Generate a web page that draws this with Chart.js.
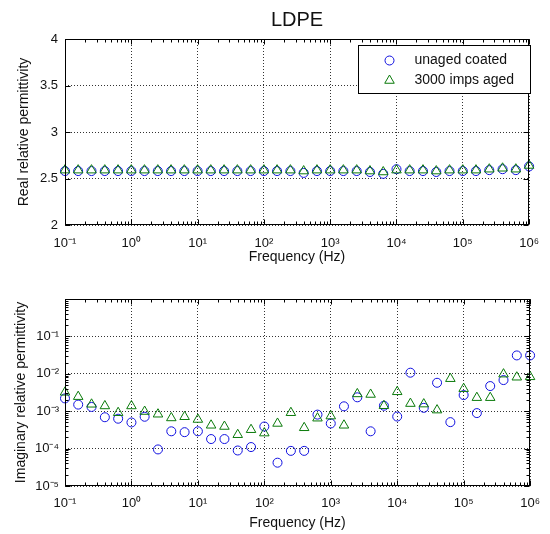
<!DOCTYPE html>
<html>
<head>
<meta charset="utf-8">
<script src="https://cdn.jsdelivr.net/npm/chart.js@4.4.0/dist/chart.umd.min.js"></script>
<style>
  body { margin: 0; background: #fff; }
  .wrap { position: absolute; left: 0; width: 550px; height: 267px; }
</style>
</head>
<body>
<div class="wrap" style="top:0"><canvas id="realChart" width="550" height="267"></canvas></div>
<div class="wrap" style="top:267px"><canvas id="imagChart" width="550" height="267"></canvas></div>
<script>
// frequency sweep, 5 points per decade
const freqs = [0.1, 0.158, 0.251, 0.398, 0.631, 1, 1.58, 2.51, 3.98, 6.31,
  10, 15.8, 25.1, 39.8, 63.1, 100, 158, 251, 398, 631,
  1000, 1580, 2510, 3980, 6310, 1e4, 1.58e4, 2.51e4, 3.98e4, 6.31e4,
  1e5, 1.58e5, 2.51e5, 3.98e5, 6.31e5, 1e6];

const realCoated = [2.58, 2.58, 2.58, 2.58, 2.58, 2.58, 2.58, 2.58, 2.58, 2.58,
  2.58, 2.58, 2.58, 2.58, 2.58, 2.58, 2.58, 2.58, 2.56, 2.58,
  2.58, 2.58, 2.58, 2.57, 2.55, 2.60, 2.58, 2.58, 2.57, 2.58,
  2.58, 2.58, 2.59, 2.60, 2.59, 2.63];
const realAged = [2.59, 2.59, 2.59, 2.59, 2.59, 2.59, 2.59, 2.59, 2.59, 2.59,
  2.59, 2.59, 2.59, 2.59, 2.59, 2.59, 2.59, 2.59, 2.58, 2.59,
  2.59, 2.59, 2.59, 2.58, 2.57, 2.59, 2.59, 2.59, 2.58, 2.59,
  2.59, 2.59, 2.60, 2.61, 2.60, 2.64];

const imagCoated = [2.2e-3, 1.5e-3, 1.3e-3, 6.9e-4, 6.3e-4, 5.0e-4, 7.1e-4, 9.5e-5, 2.9e-4, 2.75e-4,
  2.9e-4, 1.8e-4, 1.8e-4, 8.9e-5, 1.1e-4, 3.9e-4, 4.2e-5, 8.7e-5, 8.7e-5, 8.1e-4,
  4.7e-4, 1.35e-3, 2.35e-3, 2.9e-4, 1.4e-3, 7.2e-4, 1.07e-2, 1.23e-3, 5.75e-3, 5.1e-4,
  2.7e-3, 8.9e-4, 4.7e-3, 6.8e-3, 3.1e-2, 3.1e-2];
const imagAged = [3.2e-3, 2.45e-3, 1.53e-3, 1.38e-3, 9.1e-4, 1.38e-3, 9.8e-4, 8.3e-4, 6.6e-4, 7.1e-4,
  6.0e-4, 4.2e-4, 3.9e-4, 2.35e-4, 3.2e-4, 2.6e-4, 4.7e-4, 9.1e-4, 3.6e-4, 6.5e-4,
  7.4e-4, 4.2e-4, 2.9e-3, 2.8e-3, 1.4e-3, 3.3e-3, 1.6e-3, 1.55e-3, 1.07e-3, 7.4e-3,
  4.0e-3, 2.3e-3, 2.3e-3, 9.8e-3, 8.1e-3, 8.3e-3];

const freqTicks = [0.1, 1, 10, 100, 1e3, 1e4, 1e5, 1e6];
const realTicks = [2, 2.5, 3, 3.5, 4];
const imagTicks = [1e-5, 1e-4, 1e-3, 1e-2, 1e-1, 1];
const seriesLabels = ['unaged coated', '3000 imps aged'];

const FONT = 'Liberation Sans, Arial, Helvetica, sans-serif';
const SUP = {'-': '\u207B', '0': '\u2070', '1': '\u00B9', '2': '\u00B2', '3': '\u00B3',
  '4': '\u2074', '5': '\u2075', '6': '\u2076', '7': '\u2077', '8': '\u2078', '9': '\u2079'};

function pow10Label(v) {
  const e = Math.round(Math.log10(v));
  return '10' + String(e).split('').map(c => SUP[c]).join('');
}

function toPoints(ys) {
  return freqs.map((f, i) => ({x: f, y: ys[i]}));
}

function makeDatasets(coated, aged) {
  return [{
    label: seriesLabels[0],
    data: toPoints(coated),
    pointStyle: 'circle',
    pointRadius: 4.5,
    borderColor: '#1010e0',
    backgroundColor: 'rgba(0,0,0,0)',
    borderWidth: 1,
    clip: false,
    order: 1
  }, {
    label: seriesLabels[1],
    data: toPoints(aged),
    pointStyle: 'triangle',
    pointRadius: 5.5,
    borderColor: '#0a7a0a',
    backgroundColor: 'rgba(0,0,0,0)',
    borderWidth: 1,
    clip: false,
    order: 0
  }];
}

// box, inward major/minor ticks like the original figure
const frame = {
  id: 'frame',
  afterDraw(chart) {
    const {ctx, chartArea: a, scales: {x, y}} = chart;
    const L = Math.round(a.left) + 0.5, R = Math.round(a.right) - 0.5;
    const T = Math.round(a.top) + 0.5, B = Math.round(a.bottom) - 0.5;
    ctx.save();
    ctx.strokeStyle = '#000';
    ctx.lineWidth = 1;
    ctx.beginPath();
    for (let e = -1; e <= 6; e++) {
      for (let m = 1; m < 10; m++) {
        const v = m * Math.pow(10, e);
        if (v > 1e6) break;
        const px = Math.round(x.getPixelForValue(v)) + 0.5;
        const len = m === 1 ? 5 : 3;
        ctx.moveTo(px, B); ctx.lineTo(px, B - len);
        ctx.moveTo(px, T); ctx.lineTo(px, T + len);
      }
    }
    if (y.type === 'logarithmic') {
      for (let e = -5; e <= 0; e++) {
        for (let m = 1; m < 10; m++) {
          const v = m * Math.pow(10, e);
          if (v > 1) break;
          const py = Math.round(y.getPixelForValue(v)) + 0.5;
          const len = m === 1 ? 5 : 3;
          ctx.moveTo(L, py); ctx.lineTo(L + len, py);
          ctx.moveTo(R, py); ctx.lineTo(R - len, py);
        }
      }
    } else {
      realTicks.forEach(v => {
        const py = Math.round(y.getPixelForValue(v)) + 0.5;
        ctx.moveTo(L, py); ctx.lineTo(L + 5, py);
        ctx.moveTo(R, py); ctx.lineTo(R - 5, py);
      });
    }
    ctx.stroke();
    ctx.strokeRect(L, T, R - L, B - T);
    ctx.restore();
  }
};

// legend box drawn inside the upper plot
const insideLegend = {
  id: 'insideLegend',
  afterDraw(chart) {
    const {ctx} = chart;
    const bx = 358.5, by = 45.5, bw = 172, bh = 48;
    ctx.save();
    ctx.fillStyle = '#fff';
    ctx.fillRect(bx, by, bw, bh);
    ctx.strokeStyle = '#000';
    ctx.lineWidth = 1;
    ctx.strokeRect(bx, by, bw, bh);
    chart.data.datasets.forEach((ds, i) => {
      const yy = by + 15 + i * 20;
      ctx.strokeStyle = ds.borderColor;
      ctx.fillStyle = 'rgba(0,0,0,0)';
      Chart.helpers.drawPoint(ctx, {pointStyle: ds.pointStyle, radius: ds.pointRadius, borderWidth: 1}, bx + 31, yy);
      ctx.fillStyle = '#111';
      ctx.font = '14px ' + FONT;
      ctx.textBaseline = 'middle';
      ctx.fillText(ds.label, bx + 56, yy);
    });
    ctx.restore();
  }
};

function xAxis(height, pad, titlePad) {
  return {
    type: 'logarithmic',
    min: 0.1,
    max: 1e6,
    afterBuildTicks: ax => { ax.ticks = freqTicks.map(v => ({value: v})); },
    afterFit: ax => { ax.height = height; },
    grid: {color: '#333', lineWidth: 1, drawTicks: false},
    border: {display: false, dash: [1, 2]},
    ticks: {
      autoSkip: false, maxRotation: 0, padding: pad, color: '#111',
      font: {family: FONT, size: 13},
      callback: v => pow10Label(v)
    },
    title: {display: true, text: 'Frequency (Hz)', color: '#111',
      font: {family: FONT, size: 14}, padding: {top: 0, bottom: titlePad}}
  };
}

const realChart = new Chart(document.getElementById('realChart').getContext('2d'), {
  type: 'scatter',
  data: {datasets: makeDatasets(realCoated, realAged)},
  options: {
    responsive: false,
    animation: false,
    layout: {padding: {left: 0, right: 15, top: 0, bottom: 0}},
    plugins: {
      legend: {display: false},
      tooltip: {enabled: false},
      title: {
        display: true, text: 'LDPE', fullSize: false, color: '#111',
        font: {family: FONT, size: 20, weight: 'normal'},
        padding: {top: 8, bottom: 7}
      }
    },
    scales: {
      x: xAxis(42, 11, 1),
      y: {
        type: 'linear',
        min: 2,
        max: 4,
        afterBuildTicks: ax => { ax.ticks = realTicks.map(v => ({value: v})); },
        afterFit: ax => { ax.width = 65; },
        grid: {color: '#333', lineWidth: 1, drawTicks: false},
        border: {display: false, dash: [1, 2]},
        ticks: {padding: 7, color: '#111', font: {family: FONT, size: 13},
          callback: v => String(v)},
        title: {display: true, text: 'Real relative permittivity', color: '#111',
          font: {family: FONT, size: 14}, padding: {top: 16, bottom: 0}}
      }
    }
  },
  plugins: [frame, insideLegend]
});

const imagChart = new Chart(document.getElementById('imagChart').getContext('2d'), {
  type: 'scatter',
  data: {datasets: makeDatasets(imagCoated, imagAged)},
  options: {
    responsive: false,
    animation: false,
    layout: {padding: {left: 0, right: 15, top: 32, bottom: 0}},
    plugins: {legend: {display: false}, tooltip: {enabled: false}},
    scales: {
      x: xAxis(48, 10, 2),
      y: {
        type: 'logarithmic',
        min: 1e-5,
        max: 1,
        afterBuildTicks: ax => { ax.ticks = imagTicks.map(v => ({value: v})); },
        afterFit: ax => { ax.width = 65; },
        grid: {color: '#333', lineWidth: 1, drawTicks: false},
        border: {display: false, dash: [1, 2]},
        ticks: {padding: 6, color: '#111', font: {family: FONT, size: 13},
          callback: v => (v >= 1 ? '' : pow10Label(v))},
        title: {display: true, text: 'Imaginary relative permittivity', color: '#111',
          font: {family: FONT, size: 14}, padding: {top: 13, bottom: 0}}
      }
    }
  },
  plugins: [frame]
});
</script>
</body>
</html>
